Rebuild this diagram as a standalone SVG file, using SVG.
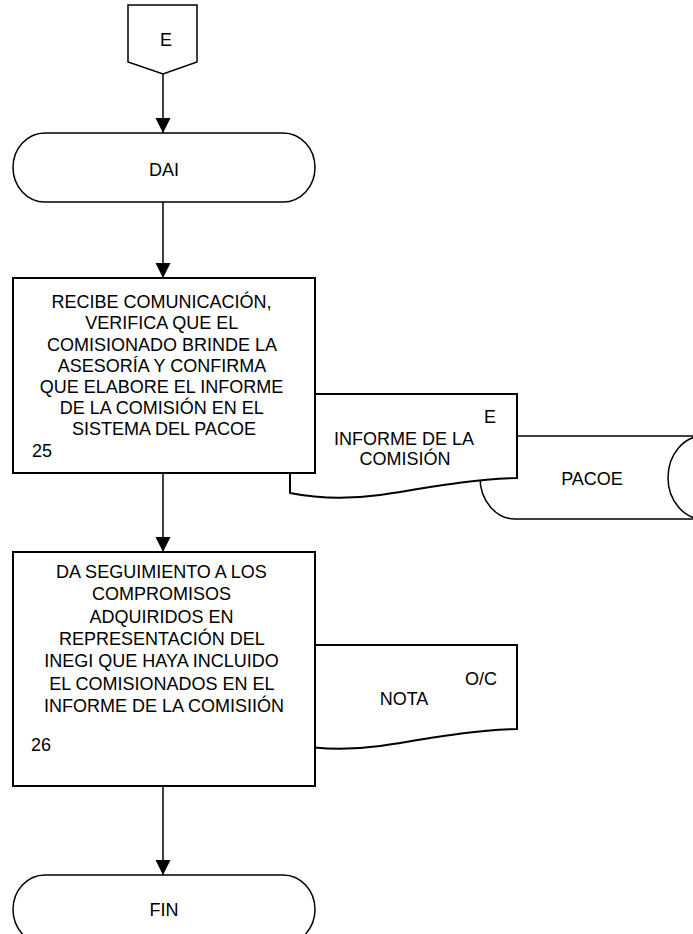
<svg xmlns="http://www.w3.org/2000/svg" width="693" height="934" viewBox="0 0 693 934">
<style>
.s{fill:#fff;stroke:#000;stroke-width:2}
.t{fill:#fff;stroke:#000;stroke-width:1.5}
.c{fill:none;stroke:#000;stroke-width:1.5}
text{font-family:"Liberation Sans",Arial,sans-serif;font-size:18px;fill:#000}
.m{text-anchor:middle}
</style>
<defs>
<marker id="arr" markerWidth="16" markerHeight="16" refX="15" refY="7.5" orient="auto" markerUnits="userSpaceOnUse">
<path d="M0,0 L15,7.5 L0,15 Z" fill="#000"/>
</marker>
</defs>
<rect width="693" height="934" fill="#fff"/>
<g id="offpage-e">
<path class="t" d="M128,5 H197 V62 L163,74 L128,62 Z"/>
<text class="m" x="166" y="46">E</text>
</g>
<g id="dai">
<path class="t" d="M45,133 H283 A32,34.5 0 0 1 283,202 H45 A32,34.5 0 0 1 45,133 Z"/>
<text class="m" x="164" y="176">DAI</text>
</g>
<g id="pacoe">
<path class="t" d="M515,436 H703 A35,41.5 0 0 1 703,519 H515 A35,41.5 0 0 1 515,436 Z"/>
<path class="c" d="M703,436 A35,41.5 0 0 0 703,519"/>
<text class="m" x="592" y="485">PACOE</text>
</g>
<g id="doc-informe">
<path class="s" d="M290,394 H517 V478 C470,479 420,489 380,495 C350,499 320,499 290,493 Z"/>
<text class="m" x="490" y="423">E</text>
<text class="m" x="404" y="445">INFORME DE LA</text>
<text class="m" x="405" y="465">COMISIÓN</text>
</g>
<g id="box-25">
<rect class="s" x="13" y="278" width="302" height="195"/>
<text class="m" x="164">
<tspan x="164" y="308">RECIBE COMUNICACIÓN,</tspan>
<tspan x="164" y="329">VERIFICA QUE EL</tspan>
<tspan x="164" y="351">COMISIONADO BRINDE LA</tspan>
<tspan x="164" y="372">ASESORÍA Y CONFIRMA</tspan>
<tspan x="164" y="393">QUE ELABORE EL INFORME</tspan>
<tspan x="164" y="414">DE LA COMISIÓN EN EL</tspan>
<tspan x="164" y="435">SISTEMA DEL PACOE</tspan>
</text>
<text x="32" y="457">25</text>
</g>
<g id="doc-nota">
<path class="s" d="M290,645 H517 V729 C470,730 420,740 380,746 C350,750 320,750 290,744 Z"/>
<text class="m" x="481" y="685">O/C</text>
<text class="m" x="404" y="705">NOTA</text>
</g>
<g id="box-26">
<rect class="s" x="13" y="552" width="302" height="234"/>
<text class="m" x="164">
<tspan x="164" y="578">DA SEGUIMIENTO A LOS</tspan>
<tspan x="164" y="600">COMPROMISOS</tspan>
<tspan x="164" y="623">ADQUIRIDOS EN</tspan>
<tspan x="164" y="645">REPRESENTACIÓN DEL</tspan>
<tspan x="164" y="667">INEGI QUE HAYA INCLUIDO</tspan>
<tspan x="164" y="690">EL COMISIONADOS EN EL</tspan>
<tspan x="164" y="712">INFORME DE LA COMISIIÓN</tspan>
</text>
<text x="31" y="751">26</text>
</g>
<g id="fin">
<path class="t" d="M45,875 H283 A32,34.5 0 0 1 283,944 H45 A32,34.5 0 0 1 45,875 Z"/>
<text class="m" x="164" y="916">FIN</text>
</g>
<g id="connectors">
<path class="c" d="M163,74 V133" marker-end="url(#arr)"/>
<path class="c" d="M163,202 V278" marker-end="url(#arr)"/>
<path class="c" d="M163,473 V552" marker-end="url(#arr)"/>
<path class="c" d="M163,786 V875" marker-end="url(#arr)"/>
</g>
</svg>
